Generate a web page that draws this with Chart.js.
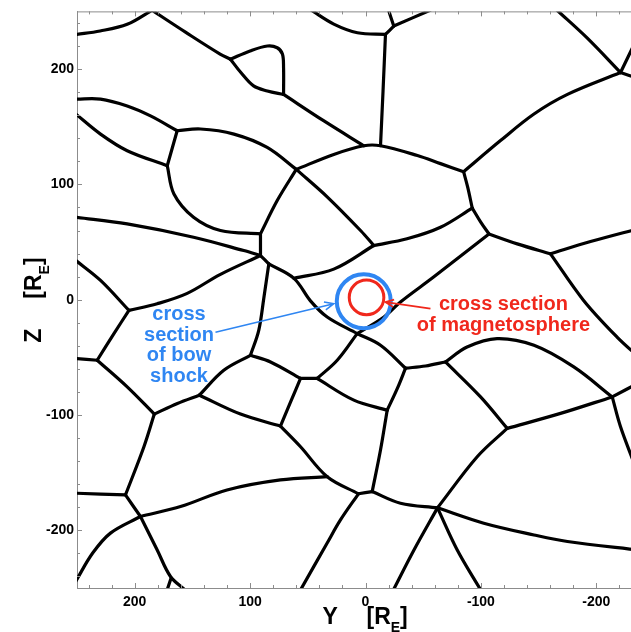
<!DOCTYPE html>
<html><head><meta charset="utf-8">
<script src="https://cdn.jsdelivr.net/npm/chart.js@4/dist/chart.umd.min.js"></script>
<style>html,body{margin:0;padding:0;overflow:hidden;background:#fff}canvas{display:block}</style>
</head><body>
<canvas id="c" width="660" height="632"></canvas>
<script>
// Axis ranges and ticks (R_E)
const yRange = [-250, 250];     // horizontal axis "Y", drawn reversed
const zRange = [-250, 250];     // vertical axis "Z"
const majorTicks = [-200, -100, 0, 100, 200];
const minorTicks = [-240,-220,-200,-180,-160,-140,-120,-100,-80,-60,-40,-20,0,20,40,60,80,100,120,140,160,180,200,220,240];

// Cell boundaries, each a polyline of [Y, Z] points in R_E
const edgesUpper = [
  [[251,230],[230,233],[206.5,238.8],[185,251]],
  [[185,251],[156,232],[126,213],[117,208.5]],
  [[117,208.5],[100,215.7],[85,220],[76.5,218.5],[72,213],[71,201],[71,178]],
  [[117,208.5],[108,197],[97,185.4],[85,181],[71,178]],
  [[71,178],[36,155],[1.5,133.5]],
  [[47,251],[27.5,239],[7,231.5],[-17.3,230]],
  [[-17.3,230],[-24.5,237.3]],
  [[-24.5,237.3],[-20,251]],
  [[-24.5,237.3],[-56,251]],
  [[-17.3,230],[-15.2,181],[-13,133.5]],
  [[-166,251],[-192,227],[-221,197]],
  [[-221,197],[-234,224]],
  [[-221,197],[-236,192]],
  [[-221,197],[-175,178],[-146,161],[-117,138],[-85,111]],
  [[251,174],[229.6,174],[206.5,168],[186.3,159.4],[163.2,146.5]],
  [[163.2,146.5],[143,148],[114,143.6],[85.2,132],[60,113]],
  [[251,161],[229.6,143.6],[206.5,129.2],[171.8,116.2]],
  [[163.2,146.5],[171.8,116.2]],
  [[60,113],[27.5,126],[1.5,133.5],[-13,133.5],[-45,125],[-65,118],[-85,111]]
];
const edgesMiddle = [
  [[171.8,116.2],[166,91.7],[149,71.5],[125.7,60],[91,57.1]],
  [[60,113],[76.5,86],[91,57.1]],
  [[91,57.1],[91,38.3]],
  [[251,71.5],[206.5,65.7],[149,54.2],[105.5,42.6],[91,38.3]],
  [[91,38.3],[83.8,31]],
  [[91,38.3],[125.7,22],[154.5,5.5],[180.5,-3.5],[205,-9.3]],
  [[251,34],[229.6,16.7],[205,-9.3]],
  [[205,-9.3],[218,-29.4],[232.5,-52.5]],
  [[251,-51],[232.5,-52.5]],
  [[232.5,-52.5],[206.5,-75.6],[183,-99.2]],
  [[-85,111],[-88.6,97.4],[-92.5,79.4]],
  [[-92.5,79.4],[-100,67],[-107,57]],
  [[-92.5,79.4],[-65,62.8],[-36,52.8],[-7.2,47]],
  [[60,113],[33,89],[4.3,60],[-7.2,47]],
  [[-7.2,47],[27.5,26.5],[62,18.5]],
  [[83.8,31],[62,18.5],[47.7,-1],[33.2,-15],[7.2,-29.4]],
  [[83.8,31],[88,2.2],[92.5,-26.6],[99.7,-48.2]],
  [[-107,57],[-59,19.6],[-30.3,-2],[-16,-15],[7.2,-29.4]],
  [[-107,57],[-131.5,48.4],[-160.3,39.8]],
  [[-160.3,39.8],[-195,50.4],[-238,62]],
  [[-160.3,39.8],[-189,-0.6],[-218,-32.4],[-238,-50.8]],
  [[7.2,-29.4],[-13,-39.5],[-34.7,-59.4]],
  [[-34.7,-59.4],[-52,-57.5],[-69.3,-54]],
  [[-69.3,-54],[-88,-41],[-114,-33.7],[-146,-39.5],[-180.5,-58.3],[-213.8,-84.3]],
  [[-213.8,-84.3],[-238,-71.5]],
  [[-213.8,-84.3],[-221,-110.2],[-233,-142.5]],
  [[-69.3,-54],[-99.7,-84.3],[-122.8,-111.6]],
  [[-122.8,-111.6],[-169,-98.6],[-213.8,-84.3]],
  [[-122.8,-111.6],[-96.8,-136.2],[-62.4,-180.5]],
  [[-34.7,-59.4],[-27.7,-76.7],[-18.8,-95.8]],
  [[41.9,-68.3],[10.1,-87.1],[-18.8,-95.8]],
  [[41.9,-68.3],[24.5,-52.5],[7.2,-29.4]],
  [[56.3,-68.3],[41.9,-68.3]],
  [[99.7,-48.2],[82.3,-54],[56.3,-68.3]],
  [[56.3,-68.3],[65,-88.8],[73.7,-109.6]],
  [[144,-82.8],[122.8,-61.2],[99.7,-48.2]],
  [[183,-99.2],[163,-90],[144,-82.8]],
  [[144,-82.8],[108.3,-99.2],[73.7,-109.6]]
];
const edgesLower = [
  [[73.7,-109.6],[56.3,-127.5],[33.2,-153.5],[6.1,-168.3]],
  [[6.1,-168.3],[-5.8,-166.4]],
  [[-18.8,-95.8],[-13,-130.4],[-5.8,-166.4]],
  [[-5.8,-166.4],[-30.3,-176.5],[-62.4,-180.5]],
  [[-62.4,-180.5],[-102.5,-193.8],[-146,-204],[-175,-209.7],[-238,-217.3]],
  [[-62.4,-180.5],[-42,-217],[-24,-252]],
  [[-62.4,-180.5],[-79.5,-217],[-100,-252]],
  [[6.1,-168.3],[21.7,-191],[33.2,-211],[56.5,-252]],
  [[195,-188],[160.3,-179.4],[120,-165],[73.7,-156.3],[33.2,-153.5]],
  [[183,-99.2],[192,-127.5],[208,-169.3]],
  [[251,-167.8],[208,-169.3]],
  [[208,-169.3],[195,-188]],
  [[195,-188],[180.5,-217],[169,-240],[156,-252]],
  [[168.5,-241.5],[172,-252]],
  [[195,-188],[221,-202.4],[236.4,-219.7],[251,-244]]
];

// Cross sections (centres, R_E)
const bowShockCentre = [1.5, -1.3];
const magnetoCentre = [-0.9, 2];

// Annotations
const bowLabel = ['cross', 'section', 'of bow', 'shock'];
const bowLabelAt = [161.6, -17.9];
const bowArrow = [[130, -28.3], [27.5, -3.5]];
const magLabel = ['cross section', 'of magnetosphere'];
const magLabelAt = [-119.5, -9.3];
const magArrow = [[-56.3, -7.8], [-17.3, -2.1]];

const BLUE = '#2f86f2';
const RED = '#f0281c';
const GRAY = '#8c8c8c';
const FONT = '"Liberation Sans", Arial, Helvetica, sans-serif';

const datasets = [];
[...edgesUpper, ...edgesMiddle, ...edgesLower].forEach(e => {
  datasets.push({
    data: e.map(p => ({x: p[0], y: p[1]})),
    showLine: true, borderColor: '#000', borderWidth: 3.2, pointRadius: 0,
    tension: 0.35, borderCapStyle: 'round', borderJoinStyle: 'round', order: 2
  });
});
datasets.push({
  data: [{x: bowShockCentre[0], y: bowShockCentre[1]}], showLine: false,
  pointRadius: 27, pointBorderWidth: 4, pointBorderColor: BLUE,
  pointBackgroundColor: 'rgba(0,0,0,0)', order: 0, clip: false
});
datasets.push({
  data: [{x: magnetoCentre[0], y: magnetoCentre[1]}], showLine: false,
  pointRadius: 17.3, pointBorderWidth: 3, pointBorderColor: RED,
  pointBackgroundColor: 'rgba(0,0,0,0)', order: 0, clip: false
});

function arrow(ctx, x0, y0, x1, y1, color, w, head) {
  ctx.strokeStyle = color; ctx.lineWidth = w;
  ctx.beginPath(); ctx.moveTo(x0, y0); ctx.lineTo(x1, y1);
  const a = Math.atan2(y1 - y0, x1 - x0);
  ctx.moveTo(x1 - head * Math.cos(a - 0.42), y1 - head * Math.sin(a - 0.42));
  ctx.lineTo(x1, y1);
  ctx.lineTo(x1 - head * Math.cos(a + 0.42), y1 - head * Math.sin(a + 0.42));
  ctx.stroke();
}

const framePlugin = {
  id: 'frame',
  afterDraw(chart) {
    const {ctx, chartArea: a, scales: {x, y}} = chart;
    ctx.save();
    ctx.strokeStyle = GRAY; ctx.lineWidth = 1;
    ctx.beginPath();
    ctx.moveTo(a.left, a.top + 0.5); ctx.lineTo(a.right, a.top + 0.5);
    ctx.moveTo(a.right - 0.5, a.top); ctx.lineTo(a.right - 0.5, a.bottom);
    minorTicks.forEach(v => {
      const len = majorTicks.includes(v) ? 5 : 3;
      const px = Math.round(x.getPixelForValue(v)) + 0.5;
      ctx.moveTo(px, a.bottom); ctx.lineTo(px, a.bottom - len);
      ctx.moveTo(px, a.top); ctx.lineTo(px, a.top + len);
      const py = Math.round(y.getPixelForValue(v)) + 0.5;
      ctx.moveTo(a.left, py); ctx.lineTo(a.left + len, py);
      ctx.moveTo(a.right, py); ctx.lineTo(a.right - len, py);
    });
    ctx.stroke();

    // annotations
    ctx.textAlign = 'center'; ctx.textBaseline = 'alphabetic';
    ctx.font = 'bold 20px ' + FONT;
    ctx.fillStyle = BLUE;
    const bx = x.getPixelForValue(bowLabelAt[0]), by = y.getPixelForValue(bowLabelAt[1]);
    bowLabel.forEach((t, i) => ctx.fillText(t, bx, by + i * 20.5));
    ctx.fillStyle = RED;
    const mx = x.getPixelForValue(magLabelAt[0]), my = y.getPixelForValue(magLabelAt[1]);
    magLabel.forEach((t, i) => ctx.fillText(t, mx, my + i * 20.5));
    arrow(ctx, x.getPixelForValue(bowArrow[0][0]), y.getPixelForValue(bowArrow[0][1]),
      x.getPixelForValue(bowArrow[1][0]), y.getPixelForValue(bowArrow[1][1]), BLUE, 1.6, 10);
    arrow(ctx, x.getPixelForValue(magArrow[0][0]), y.getPixelForValue(magArrow[0][1]),
      x.getPixelForValue(magArrow[1][0]), y.getPixelForValue(magArrow[1][1]), RED, 1.8, 9);

    // axis titles
    ctx.fillStyle = '#000'; ctx.textAlign = 'left';
    const big = 'bold 23px ' + FONT, small = 'bold 14px ' + FONT;
    function title(letter, x0, base) {
      ctx.font = big; ctx.fillText(letter, x0 - 43, base);
      let xx = x0 + 1;
      ctx.fillText('[R', xx, base); xx += ctx.measureText('[R').width;
      ctx.font = small; ctx.fillText('E', xx, base + 8.5); xx += ctx.measureText('E').width;
      ctx.font = big; ctx.fillText(']', xx, base);
    }
    const cx = x.getPixelForValue(0), cy = y.getPixelForValue(0);
    title('Y', cx, 623.5);
    ctx.save();
    ctx.translate(40.8, cy); ctx.rotate(-Math.PI / 2);
    title('Z', 0, 0);
    ctx.restore();
    ctx.restore();
  }
};

const tickFont = {family: FONT, size: 14, weight: 'bold'};
new Chart(document.getElementById('c'), {
  type: 'scatter',
  data: {datasets},
  options: {
    responsive: false, animation: false, devicePixelRatio: 1,
    layout: {autoPadding: false, padding: {top: 10, right: 6, left: 0, bottom: 0}},
    plugins: {legend: {display: false}, tooltip: {enabled: false}},
    events: [],
    scales: {
      x: {
        type: 'linear', min: yRange[0], max: yRange[1], reverse: true,
        afterBuildTicks: s => { s.ticks = majorTicks.map(v => ({value: v})); },
        afterFit: s => { s.height = 44; },
        grid: {display: false, drawTicks: false},
        border: {display: true, color: GRAY, width: 1},
        ticks: {font: tickFont, color: '#000', padding: 6, maxRotation: 0, callback: v => String(v)}
      },
      y: {
        type: 'linear', min: zRange[0], max: zRange[1],
        afterBuildTicks: s => { s.ticks = majorTicks.map(v => ({value: v})); },
        afterFit: s => { s.width = 77; },
        grid: {display: false, drawTicks: false},
        border: {display: true, color: GRAY, width: 1},
        ticks: {font: tickFont, color: '#000', padding: 3, callback: v => String(v)}
      }
    }
  },
  plugins: [framePlugin]
});
</script>
</body></html>
